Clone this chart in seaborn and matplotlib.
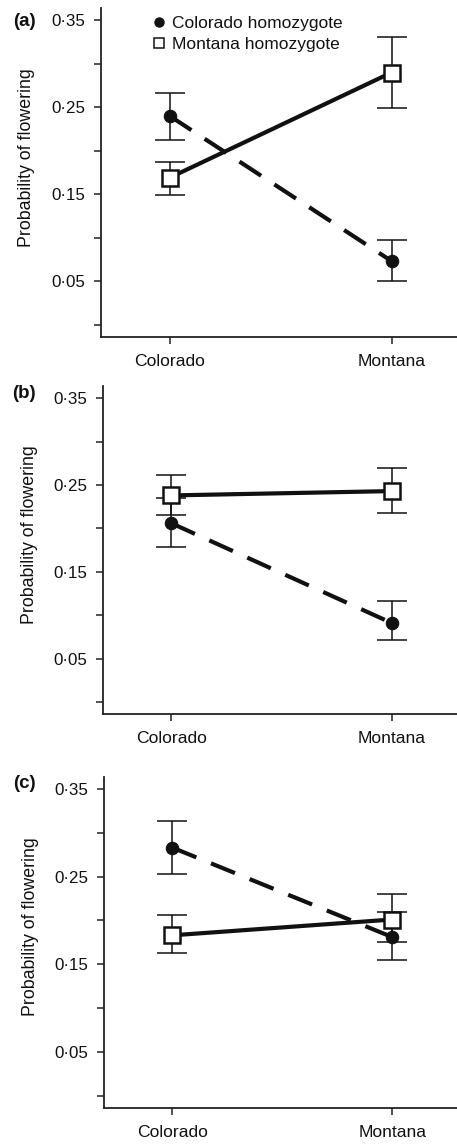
import numpy as np
import pandas as pd
import matplotlib
matplotlib.use("Agg")
import matplotlib.pyplot as plt
import seaborn as sns
from matplotlib.lines import Line2D
from matplotlib.ticker import FixedLocator

# Donnees
sites = ["Colorado", "Montana"]
panels = ["(a)", "(b)", "(c)"]
genotypes = ["Colorado homozygote", "Montana homozygote"]

colorado_mean = [[0.240, 0.073], [0.206, 0.091], [0.283, 0.181]]
colorado_upper = [[0.267, 0.097], [0.235, 0.117], [0.313, 0.210]]
colorado_lower = [[0.212, 0.050], [0.179, 0.071], [0.253, 0.155]]

montana_mean = [[0.169, 0.290], [0.238, 0.243], [0.183, 0.201]]
montana_upper = [[0.187, 0.331], [0.262, 0.270], [0.206, 0.230]]
montana_lower = [[0.149, 0.249], [0.216, 0.218], [0.163, 0.175]]

major_ticks = [0.05, 0.15, 0.25, 0.35]
minor_ticks = [0.00, 0.10, 0.20, 0.30]
tick_labels = ["0·05", "0·15", "0·25", "0·35"]

sns.set_style("ticks")
plt.rcParams['font.family'] = ['Liberation Sans', 'DejaVu Sans']

fig = plt.figure(figsize=(4.57, 11.44), dpi=100)

# positions des axes (fraction de la figure)
positions = [
    [0.2210, 0.7057, 0.7790, 0.2871],
    [0.2254, 0.3756, 0.7746, 0.2870],
    [0.2282, 0.0315, 0.7718, 0.2896],
]
label_y = [0.9812, 0.6562, 0.3147]

x = np.arange(len(sites))

for i, pos in enumerate(positions):
    ax = fig.add_axes(pos)

    df_col = pd.DataFrame({"x": x, "prob": colorado_mean[i]})
    df_mon = pd.DataFrame({"x": x, "prob": montana_mean[i]})

    # barres d'erreur
    for mean, up, low in [(colorado_mean[i], colorado_upper[i], colorado_lower[i]),
                          (montana_mean[i], montana_upper[i], montana_lower[i])]:
        mean = np.array(mean)
        yerr = [mean - np.array(low), np.array(up) - mean]
        ax.errorbar(x, mean, yerr=yerr, fmt='none', ecolor='#111111',
                    elinewidth=1.1, capsize=11, capthick=1.1, zorder=1)

    sns.lineplot(data=df_col, x="x", y="prob", ax=ax, color='#111111',
                 linewidth=3.0, linestyle=(0, (6.2, 3.8)), marker='o',
                 markersize=9, markerfacecolor='#111111', markeredgecolor='#111111',
                 zorder=2, errorbar=None)
    sns.lineplot(data=df_mon, x="x", y="prob", ax=ax, color='#111111',
                 linewidth=3.0, marker='s', markersize=11.5,
                 markerfacecolor='white', markeredgecolor='#111111',
                 markeredgewidth=1.8, zorder=3, errorbar=None)

    ax.set_xlim(-0.31, 1.295)
    ax.set_ylim(-0.014, 0.364)
    ax.set_xticks(x)
    ax.set_xticklabels(sites, fontsize=12.6)
    ax.yaxis.set_major_locator(FixedLocator(major_ticks))
    ax.yaxis.set_minor_locator(FixedLocator(minor_ticks))
    ax.set_yticklabels(tick_labels, fontsize=12.2)
    ax.tick_params(axis='both', which='both', length=5.2, width=1.1,
                   color='#222222', labelcolor='#111111')
    ax.tick_params(axis='y', pad=6)
    ax.tick_params(axis='x', pad=7)
    ax.set_xlabel("")
    ax.set_ylabel("Probability of flowering", fontsize=12.8, color='#111111')
    ax.yaxis.set_label_coords(-0.185, 0.546)

    for side in ['top', 'right']:
        ax.spines[side].set_visible(False)
    for side in ['left', 'bottom']:
        ax.spines[side].set_linewidth(1.3)
        ax.spines[side].set_color('#222222')

    fig.text(0.0525, label_y[i], panels[i], fontsize=13.5, fontweight='bold',
             ha='center', va='center', color='#111111')

    if i == 0:
        handles = [
            Line2D([], [], linestyle='none', marker='o', markersize=6.5,
                   markerfacecolor='#111111', markeredgecolor='#111111'),
            Line2D([], [], linestyle='none', marker='s', markersize=7,
                   markerfacecolor='white', markeredgecolor='#111111',
                   markeredgewidth=1.1),
        ]
        ax.legend(handles, genotypes, loc='upper left',
                  bbox_to_anchor=(0.138, 0.976), frameon=False, fontsize=12.5,
                  borderpad=0, handlelength=1.0, handletextpad=0.25,
                  labelspacing=0.31, borderaxespad=0, labelcolor='#111111')

fig.savefig("out.png", dpi=100)
